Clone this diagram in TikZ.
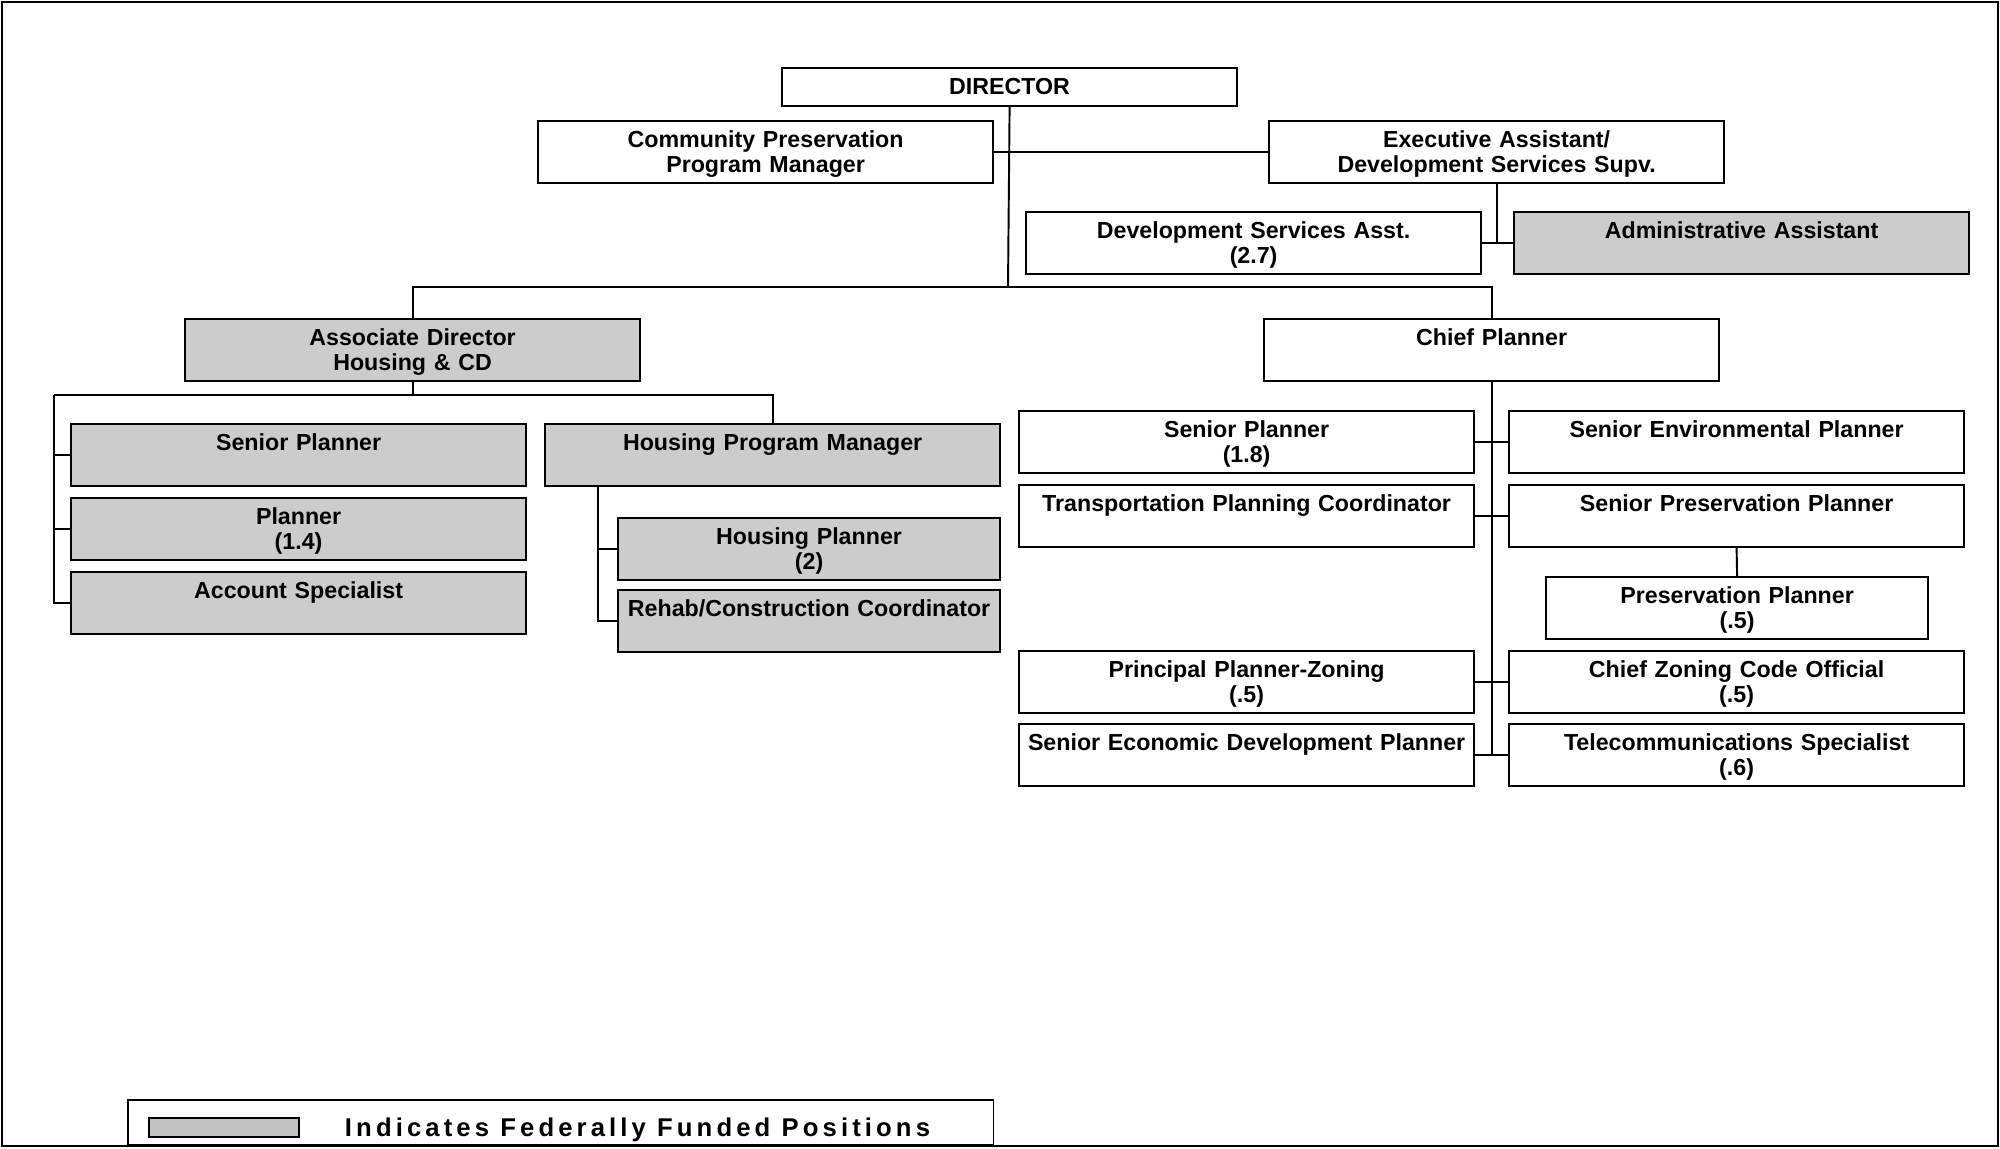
\documentclass[tikz,border=0pt]{standalone}
\usepackage{fontspec}
\setmainfont{Liberation Sans}
\definecolor{fedgray}{RGB}{204,204,204}
\definecolor{keygray}{RGB}{192,192,192}
\begin{document}
\begin{tikzpicture}[x=0.01cm,y=-0.01cm,line width=0.55pt,post/.style={draw,fill=white,anchor=north west,inner sep=0pt,text width=4.55cm,align=center,font=\fontsize{6.6}{7.1}\selectfont\bfseries,text height=0.265cm,text depth=0.355cm},fed/.style={post,fill=fedgray},slim/.style={text width=3.82cm}]
\useasboundingbox (0,0) rectangle (2000,1148);
\draw[line width=0.7pt] (2,2) rectangle (1998,1146);

\node[post,text depth=0.115cm] (dir) at (781,67) {DIRECTOR};
\node[post] (cpm) at (537,120) {Community Preservation\\Program Manager};
\node[post] (exa) at (1268,120) {Executive Assistant/\\Development Services Supv.};
\node[post] (dsa) at (1025,211) {Development Services Asst.\\(2.7)};
\node[fed] (adm) at (1513,211) {Administrative Assistant};

\node[fed] (acd) at (184,318) {Associate Director\\Housing \& CD};
\node[post] (chp) at (1263,318) {Chief Planner};

\node[fed] (hsp) at (70,423) {Senior Planner};
\node[fed] (hpl) at (70,497) {Planner\\(1.4)};
\node[fed] (acs) at (70,571) {Account Specialist};
\node[fed] (hpm) at (544,423) {Housing Program Manager};
\node[fed,slim] (hop) at (617,517) {Housing Planner\\(2)};
\node[fed,slim] (rcc) at (617,589) {Rehab/Construction Coordinator};

\node[post] (csp) at (1018,410) {Senior Planner\\(1.8)};
\node[post] (sep) at (1508,410) {Senior Environmental Planner};
\node[post] (tpc) at (1018,484) {Transportation Planning Coordinator};
\node[post] (spp) at (1508,484) {Senior Preservation Planner};
\node[post,slim] (prp) at (1545,576) {Preservation Planner\\(.5)};
\node[post] (ppz) at (1018,650) {Principal Planner-Zoning\\(.5)};
\node[post] (czc) at (1508,650) {Chief Zoning Code Official\\(.5)};
\node[post] (sed) at (1018,723) {Senior Economic Development Planner};
\node[post] (tel) at (1508,723) {Telecommunications Specialist\\(.6)};

\coordinate (bus) at (1008,287);
\draw (dir.south) -- (bus);
\draw (acd.north) |- (bus) -| (chp.north);
\draw (cpm.east) -- (exa.west);
\draw (exa.south) -- (exa.south |- dsa.east);
\draw (dsa.east) -- (adm.west);

\coordinate (hbus) at (54,395);
\draw (acd.south) -- (acd.south |- hbus);
\draw (hbus) -| (hpm.north);
\draw (hbus) |- (acs.west);
\draw (hbus |- hsp.west) -- (hsp.west);
\draw (hbus |- hpl.west) -- (hpl.west);
\coordinate (htrunk) at ([xshift=0.54cm]hpm.south west);
\draw (htrunk) |- (rcc.west);
\draw (htrunk |- hop.west) -- (hop.west);

\draw (chp.south) -- (chp.south |- sed.east);
\foreach \l/\r in {csp/sep,tpc/spp,ppz/czc,sed/tel}
  \draw (\l.east) -- (\r.west);
\draw (spp.south) -- (prp.north);

\node[draw,fill=white,anchor=south west,minimum width=8.65cm,minimum height=0.45cm,inner sep=0pt] (key) at (127,1146) {};
\node[draw,fill=keygray,anchor=west,minimum width=1.5cm,minimum height=0.19cm,inner sep=0pt] (keybox) at (148,1127.5) {};
\node[anchor=west,inner sep=0pt,font=\fontsize{7.3}{8}\selectfont\bfseries\addfontfeature{LetterSpace=16}] (keytext) at (344,1130) {Indicates Federally Funded Positions};
\end{tikzpicture}
\end{document}
